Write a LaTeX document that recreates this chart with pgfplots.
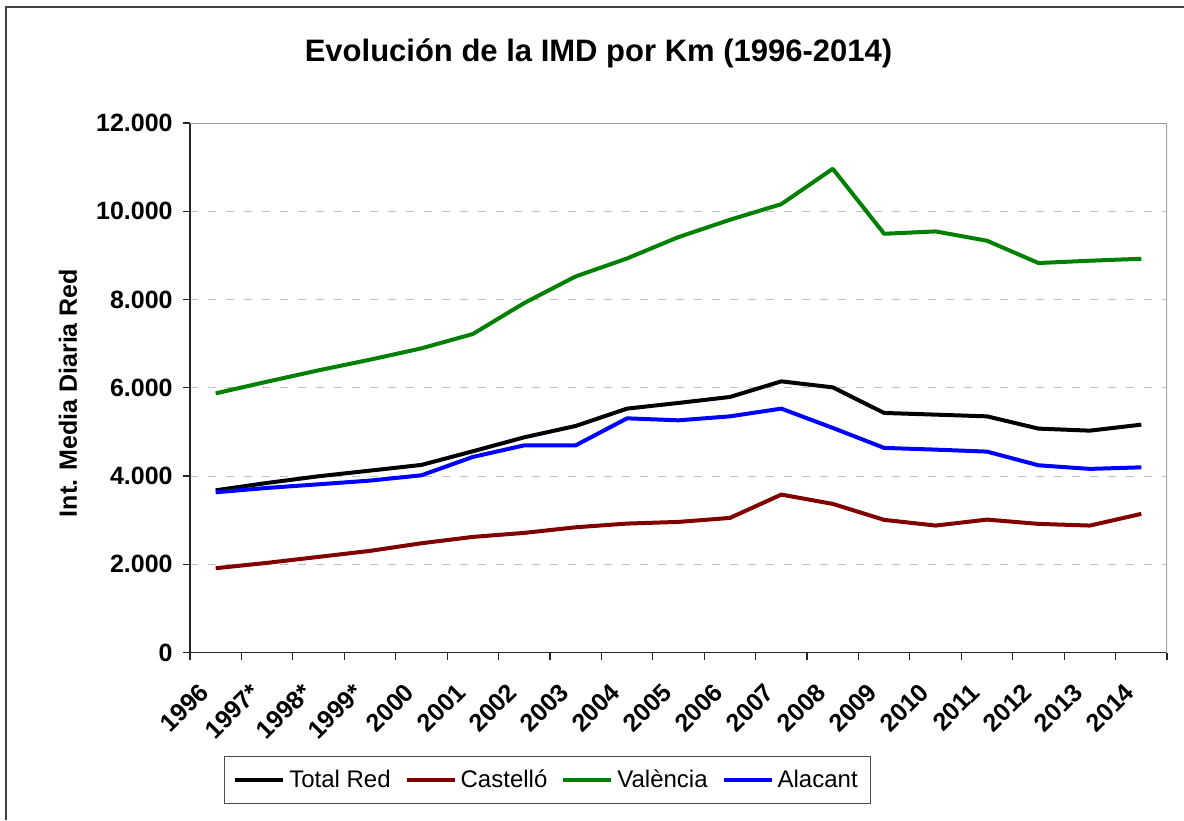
\documentclass[border=0pt]{standalone}
\usepackage{fontspec}
\setmainfont{Liberation Sans}
\usepackage{pgfplots}
\usepackage{pgfplotstable}
\pgfplotsset{compat=1.18}
\definecolor{cred}{RGB}{128,0,0}
\definecolor{cgreen}{RGB}{0,128,0}
\definecolor{cblue}{RGB}{0,0,255}
\definecolor{gridgray}{RGB}{192,192,192}

\pgfplotstableread{
x total cas val ala
0 3676 1910 5873 3631
1 3843 2032 6138 3730
2 3994 2167 6395 3812
3 4122 2303 6636 3896
4 4251 2476 6893 4016
5 4560 2620 7218 4432
6 4877 2711 7920 4695
7 5134 2838 8523 4695
8 5527 2922 8931 5307
9 5656 2960 9415 5262
10 5791 3050 9807 5352
11 6145 3579 10162 5527
12 6009 3368 10963 5090
13 5429 3006 9490 4637
14 5391 2877 9543 4598
15 5352 3012 9332 4553
16 5074 2915 8827 4243
17 5028 2877 8879 4161
18 5164 3142 8924 4197
}\datatable

\begin{document}
\begin{tikzpicture}[x=1pt,y=1pt]
\useasboundingbox (0,0) rectangle (592,-410);
\fill[white] (0,0) rectangle (592,-410);
\draw[line width=1pt, black!75] (3,-410) -- (3,-3.5) -- (592,-3.5);
\node[font=\bfseries\fontsize{15.5}{18}\selectfont] at (299.25,-26.5) {Evolución de la IMD por Km (1996-2014)};
\begin{axis}[
  at={(95pt,-326.25pt)}, anchor=south west,
  width=488.5pt, height=264.75pt, scale only axis,
  xmin=-0.5, xmax=18.5, ymin=0, ymax=12000,
  axis x line*=bottom, axis y line*=left,
  axis line style={black!85, line width=0.75pt},
  xtick={-0.5,0.5,...,18.5},
  x tick label as interval,
  xticklabels={1996,1997*,1998*,1999*,2000,2001,2002,2003,2004,2005,2006,2007,2008,2009,2010,2011,2012,2013,2014},
  ytick={0,2000,...,12000},
  scaled y ticks=false,
  tick align=outside, major tick length=3.5pt,
  tick style={black!85, line width=0.6pt},
  ymajorgrids, grid style={gridgray, dash pattern=on 4pt off 5pt, line width=0.5pt},
  ticklabel style={font=\bfseries\fontsize{12.5}{14}\selectfont},
  /pgf/number format/assume math mode=true,
  yticklabel style={inner sep=0pt, xshift=-5pt, /pgf/number format/fixed, /pgf/number format/1000 sep={.}},
  xticklabel style={xshift=-5.7pt, yshift=-14.2pt, rotate=45, anchor=east, inner sep=0pt},
  ylabel={Int. Media Diaria Red},
  every axis y label/.style={at={(axis description cs:-0.125,0.49)}, rotate=90, anchor=center, font=\bfseries\fontsize{12.5}{14}\selectfont},
  legend style={at={(0.3659,-0.2408)}, anchor=center, legend columns=4, draw=black!70, line width=0.75pt,
    font=\fontsize{12}{14}\selectfont, inner xsep=4.5pt, inner ysep=4.5pt,
    /tikz/every even column/.append style={column sep=5pt}},
  legend image code/.code={\draw[#1, line width=2pt] (0pt,0pt) -- (24pt,0pt);},
  every axis plot/.append style={line width=2pt, line join=round},
]
\addplot[black] table[x=x, y=total] {\datatable};
\addplot[cred] table[x=x, y=cas] {\datatable};
\addplot[cgreen] table[x=x, y=val] {\datatable};
\addplot[cblue] table[x=x, y=ala] {\datatable};
\legend{Total Red, Castelló, València, Alacant}
\draw[gray!80, line width=0.75pt] (rel axis cs:0,1) -- (rel axis cs:1,1);
\draw[gray!70, line width=1.5pt] (rel axis cs:1,1) -- (rel axis cs:1,0);
\end{axis}
\end{tikzpicture}
\end{document}
